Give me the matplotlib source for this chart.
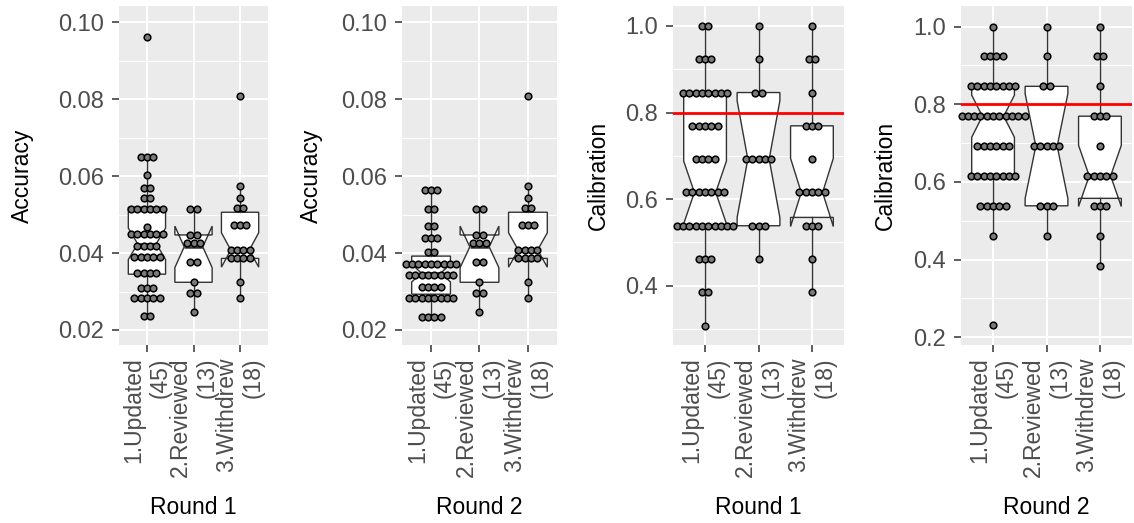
import numpy as np
import matplotlib.pyplot as plt
from matplotlib.transforms import blended_transform_factory

plt.rcParams['font.family'] = ['Liberation Sans', 'DejaVu Sans']

W, H = 1134, 523

grupos = ["1.Updated\n(45)", "2.Reviewed\n(13)", "3.Withdrew\n(18)"]
n_grupo = [45, 13, 18]

# ---- Accuracy: filas del dotplot (valor, numero de puntos) ----
acc_r1_upd_val = [0.0237, 0.0284, 0.0308, 0.0349, 0.0389, 0.0419, 0.0449, 0.0468,
                  0.0514, 0.0542, 0.0570, 0.0604, 0.0650, 0.0962]
acc_r1_upd_cnt = [2, 5, 3, 4, 5, 4, 6, 1, 6, 2, 2, 1, 3, 1]
acc_r2_upd_val = [0.0235, 0.0282, 0.0313, 0.0343, 0.0371, 0.0402, 0.0440, 0.0471, 0.0514, 0.0564]
acc_r2_upd_cnt = [4, 8, 4, 8, 9, 2, 3, 2, 2, 3]
acc_rev_val = [0.0246, 0.0295, 0.0324, 0.0378, 0.0425, 0.0448, 0.0514]
acc_rev_cnt = [1, 2, 1, 2, 3, 2, 2]
acc_wd_val = [0.0284, 0.0324, 0.0386, 0.0408, 0.0472, 0.0517, 0.0544, 0.0575, 0.0808]
acc_wd_cnt = [1, 1, 4, 4, 3, 2, 1, 1, 1]

# cajas: bigote inf, Q1, mediana, Q3, bigote sup
acc_r1_upd_box = [0.0237, 0.0345, 0.0424, 0.0519, 0.0650]
acc_r2_upd_box = [0.0235, 0.0293, 0.0348, 0.0392, 0.0564]
acc_rev_box = [0.0246, 0.0324, 0.0416, 0.0447, 0.0514]
acc_wd_box = [0.0284, 0.0386, 0.0408, 0.0506, 0.0575]

# ---- Calibration (multiplos de 1/13) ----
cal_r1_upd_val = [4, 5, 6, 7, 8, 9, 10, 11, 12, 13]
cal_r1_upd_cnt = [1, 2, 3, 10, 7, 4, 5, 8, 3, 2]
cal_r2_upd_val = [3, 6, 7, 8, 9, 10, 11, 12, 13]
cal_r2_upd_cnt = [1, 1, 5, 8, 6, 11, 8, 4, 1]
cal_rev_val = [6, 7, 9, 11, 12, 13]
cal_rev_cnt = [1, 3, 5, 2, 1, 1]
cal_wd_val = [5, 6, 7, 8, 9, 10, 11, 12, 13]
cal_wd_cnt = [1, 1, 3, 5, 1, 3, 1, 2, 1]

cal_r1_upd_box = [4 / 13, 7 / 13, 8 / 13, 11 / 13, 1.0]
cal_r2_upd_box = [6 / 13, 8 / 13, 10 / 13, 11 / 13, 1.0]
cal_rev_box = [6 / 13, 7 / 13, 9 / 13, 11 / 13, 1.0]
cal_wd_box = [5 / 13, 0.5577, 8 / 13, 10 / 13, 1.0]

acc_ticks = [0.02, 0.04, 0.06, 0.08, 0.10]
acc_minor = [0.03, 0.05, 0.07, 0.09]
cal1_ticks = [0.4, 0.6, 0.8, 1.0]
cal1_minor = [0.3, 0.5, 0.7, 0.9]
cal2_ticks = [0.2, 0.4, 0.6, 0.8, 1.0]
cal2_minor = [0.3, 0.5, 0.7, 0.9]
objetivo_cal = 0.8

PUNTO_PX = 6.3  # separacion entre puntos en pixeles

fig = plt.figure(figsize=(W / 100, H / 100), dpi=100)


def nuevo_eje(x0, x1, y0=6, y1=345):
    return fig.add_axes([x0 / W, (H - y1) / H, (x1 - x0) / W, (y1 - y0) / H])


def dibujar_panel(ax, filas, cajas, ylim, ticks, minor, fmt, ylabel, xlabel, ylab_x, linea=None):
    ax.set_facecolor('#EBEBEB')
    ax.set_xlim(0.4, 3.6)
    ax.set_ylim(*ylim)
    for s in ax.spines.values():
        s.set_visible(False)

    stats = []
    for b, n in zip(cajas, n_grupo):
        lo, q1, med, q3, hi = b
        ci = 1.58 * (q3 - q1) / np.sqrt(n)
        stats.append(dict(whislo=lo, q1=q1, med=med, q3=q3, whishi=hi,
                          cilo=med - ci, cihi=med + ci, fliers=[]))
    ax.bxp(stats, positions=[1, 2, 3], widths=0.8, shownotches=True, showcaps=False,
           showfliers=False, patch_artist=True, zorder=2, manage_ticks=False,
           boxprops=dict(facecolor='white', edgecolor='#333333', lw=1.0),
           whiskerprops=dict(color='#333333', lw=1.0),
           medianprops=dict(color='#333333', lw=1.8))

    ax.set_yticks(ticks)
    ax.set_yticklabels([fmt.format(t) for t in ticks])
    ax.set_yticks(minor, minor=True)
    ax.set_xticks([1, 2, 3])
    ax.set_xticklabels(grupos, rotation=90, ha='center', va='top', multialignment='right')
    ax.tick_params(which='major', length=5.3, width=1.1, color='#333333',
                   labelsize=16.5, labelcolor='#4D4D4D', pad=3.5)
    ax.tick_params(axis='y', which='major', labelsize=17, pad=5.5)
    ax.tick_params(which='minor', length=0)
    ax.grid(which='major', color='white', lw=1.4)
    ax.grid(which='minor', axis='y', color='white', lw=0.7)
    ax.set_axisbelow(True)

    if linea is not None:
        ax.axhline(linea, color='red', lw=2.0, zorder=3)

    ancho_px = ax.get_position().width * W
    paso = PUNTO_PX / (ancho_px / 3.2)
    for pos, (vals, cnts) in zip([1, 2, 3], filas):
        for v, n in zip(vals, cnts):
            xs = pos + (np.arange(n) - (n - 1) / 2) * paso
            ax.scatter(xs, np.full(n, v), s=23, facecolor='#7A7A7A', edgecolor='black',
                       linewidth=1.1, zorder=4, clip_on=False)

    ax.set_ylabel(ylabel, fontsize=16.5, color='black', va='center')
    ax.yaxis.set_label_coords(ylab_x / W, (H - 175.5) / H, transform=fig.transFigure)
    ax.set_xlabel(xlabel, fontsize=16.5, color='black', va='center')
    ax.xaxis.set_label_coords(0.5, (H - 508) / H,
                              transform=blended_transform_factory(ax.transAxes, fig.transFigure))


def a13(vals):
    return [v / 13 for v in vals]


ax1 = nuevo_eje(119, 268)
dibujar_panel(ax1,
              [(acc_r1_upd_val, acc_r1_upd_cnt), (acc_rev_val, acc_rev_cnt), (acc_wd_val, acc_wd_cnt)],
              [acc_r1_upd_box, acc_rev_box, acc_wd_box],
              (0.0161, 0.1042), acc_ticks, acc_minor, '{:.2f}', 'Accuracy', 'Round 1', 22)

ax2 = nuevo_eje(402, 557)
dibujar_panel(ax2,
              [(acc_r2_upd_val, acc_r2_upd_cnt), (acc_rev_val, acc_rev_cnt), (acc_wd_val, acc_wd_cnt)],
              [acc_r2_upd_box, acc_rev_box, acc_wd_box],
              (0.0161, 0.1042), acc_ticks, acc_minor, '{:.2f}', 'Accuracy', 'Round 2', 311)

ax3 = nuevo_eje(673, 844)
dibujar_panel(ax3,
              [(a13(cal_r1_upd_val), cal_r1_upd_cnt), (a13(cal_rev_val), cal_rev_cnt),
               (a13(cal_wd_val), cal_wd_cnt)],
              [cal_r1_upd_box, cal_rev_box, cal_wd_box],
              (0.263, 1.046), cal1_ticks, cal1_minor, '{:.1f}', 'Calibration', 'Round 1', 598,
              linea=objetivo_cal)

ax4 = nuevo_eje(961, 1132)
dibujar_panel(ax4,
              [(a13(cal_r2_upd_val), cal_r2_upd_cnt), (a13(cal_rev_val), cal_rev_cnt),
               (a13(cal_wd_val), cal_wd_cnt)],
              [cal_r2_upd_box, cal_rev_box, cal_wd_box],
              (0.180, 1.053), cal2_ticks, cal2_minor, '{:.1f}', 'Calibration', 'Round 2', 885,
              linea=objetivo_cal)

fig.savefig('out.png', dpi=100)
